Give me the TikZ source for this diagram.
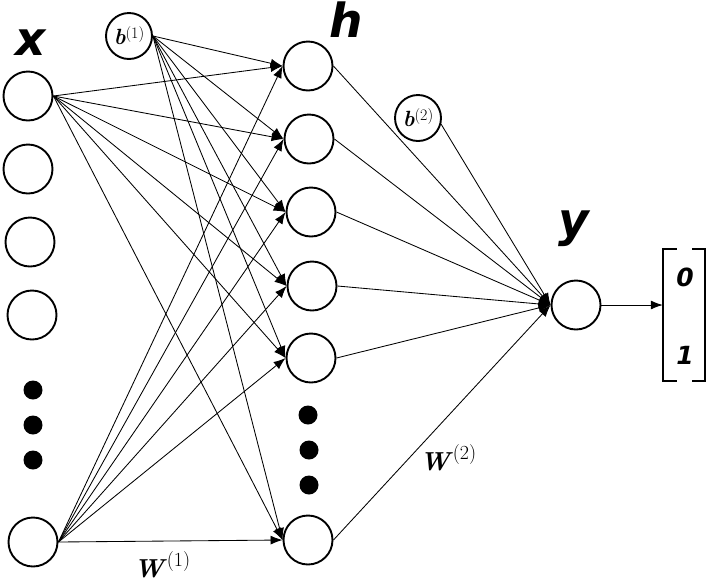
\documentclass[tikz,border=0pt]{standalone}
\usepackage{fontspec}
\newfontfamily\lblfont{DejaVu Sans}
\usetikzlibrary{arrows.meta}
\newcommand{\supl}[3]{\raisebox{#2}{\fontsize{#3}{#3}\selectfont\normalfont(#1)}}
\begin{document}
\begin{tikzpicture}[x=1pt,y=-1pt,
  neuron/.style={circle,draw,line width=1.9pt,minimum size=49pt,inner sep=0pt},
  bias/.style={circle,draw,line width=1.9pt,minimum size=46pt,inner sep=0pt,font=\fontsize{22}{22}\selectfont},
  dotn/.style={circle,fill,minimum size=19pt,inner sep=0pt},
  conn/.style={line width=0.85pt,-{Latex[length=12pt,width=9pt]}},
  lbl/.style={font=\lblfont\bfseries\itshape\fontsize{47}{47}\selectfont,inner sep=0pt,anchor=base},
  vlbl/.style={font=\lblfont\bfseries\itshape\fontsize{25}{25}\selectfont,inner sep=0pt},
  wlbl/.style={font=\fontsize{26}{26}\selectfont,inner sep=0pt,anchor=base},
  brk/.style={line width=1.9pt}
]
\useasboundingbox (0,0) rectangle (709,582);

% input layer
\node[neuron] (x1) at (28,96) {};
\node[neuron] (x2) at (28,169) {};
\node[neuron] (x3) at (30,242) {};
\node[neuron] (x4) at (32,315) {};
\node[dotn] (xd1) at (33,390) {};
\node[dotn] (xd2) at (33,425) {};
\node[dotn] (xd3) at (33,460) {};
\node[neuron] (xl) at (33,542) {};

% hidden layer
\node[neuron] (h1) at (308,66) {};
\node[neuron] (h2) at (309,139) {};
\node[neuron] (h3) at (311,212) {};
\node[neuron] (h4) at (312,286) {};
\node[neuron] (h5) at (311,358) {};
\node[dotn] (hd1) at (308,415) {};
\node[dotn] (hd2) at (309,450) {};
\node[dotn] (hd3) at (309,485) {};
\node[neuron] (hl) at (308,540) {};

% biases and output
\node[bias] (b1) at (129,36) {\textbf{\textit{b}}\supl{1}{6pt}{16}};
\node[bias] (b2) at (418,118) {\textbf{\textit{b}}\supl{2}{6pt}{16}};
\node[neuron] (yn) at (576,305) {};

% layer labels
\node[lbl] (lx) at (31,55) {x};
\node[lbl] (lh) at (346,37) {h};
\node[lbl] (ly) at (574,236) {y};

% output vector
\node[minimum width=42pt,minimum height=132pt,inner sep=0pt] (vec) at (684,315) {};
\draw[brk] ([xshift=14pt]vec.north west) -- (vec.north west) -- (vec.south west) -- ([xshift=14pt]vec.south west);
\draw[brk] ([xshift=-13pt]vec.north east) -- (vec.north east) -- (vec.south east) -- ([xshift=-13pt]vec.south east);
\node[vlbl] (v0) at (685,277) {0};
\node[vlbl] (v1) at (685,355) {1};

% weight labels
\node[wlbl] (w1) at (162,577) {\textbf{\textit{W}}\supl{1}{11pt}{20}};
\node[wlbl] (w2) at (448,470) {\textbf{\textit{W}}\supl{2}{11pt}{20}};

% connections input -> hidden
\foreach \s in {x1,b1,xl}{
  \foreach \t in {h1,h2,h3,h4,h5,hl}{
    \draw[conn] (\s.east) -- (\t.west);
  }
}
% hidden -> output
\foreach \t in {h1,h2,h3,h4,h5,hl}{
  \draw[conn] (\t.east) -- (yn.west);
}
\draw[conn] (b2.-15) -- (yn.west);
\draw[conn] (yn.east) -- (yn.east -| vec.west);
\end{tikzpicture}
\end{document}
